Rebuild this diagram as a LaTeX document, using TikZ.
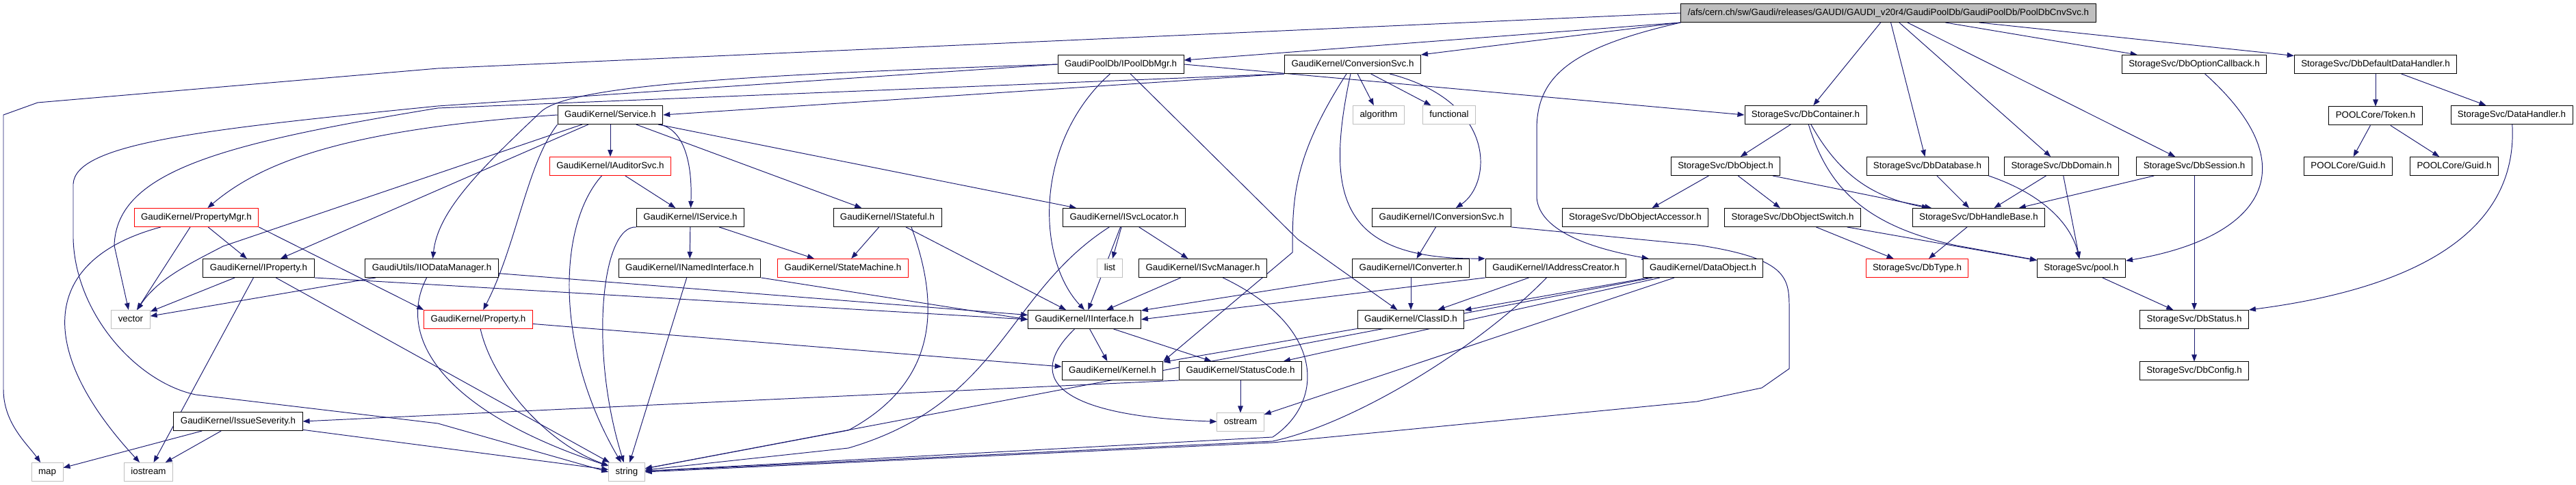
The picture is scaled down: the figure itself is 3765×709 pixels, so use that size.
\documentclass[tikz,border=0pt]{standalone}
\usepackage{fontspec}
\setmainfont{Liberation Sans}
\usepackage{tikz}
\usetikzlibrary{arrows.meta, positioning, backgrounds}

\definecolor{edgeblue}{RGB}{25,25,112}
\definecolor{rootgray}{RGB}{191,191,191}

\begin{document}
\begin{tikzpicture}[
    x=0.02cm, y=0.02cm,
    node distance=0.95cm,
    box/.style={rectangle, draw, line width=0.55pt, fill=white, minimum height=0.54cm, inner xsep=0.2cm, inner ysep=0pt, text height=5.6pt, text depth=1.6pt, font=\fontsize{7.6}{9}\selectfont},
    redbox/.style={box, draw=red},
    sysbox/.style={box, draw=rootgray},
    rootbox/.style={box, fill=rootgray},
    arrow/.style={-{Triangle[length=0.2cm, width=0.15cm]}, draw=edgeblue, line width=0.55pt}
]
\useasboundingbox (0,0) rectangle (3765,709);

% Top file
\node[rootbox] (root) at (2760,690) {/afs/cern.ch/sw/Gaudi/releases/GAUDI/GAUDI\_v20r4/GaudiPoolDb/GaudiPoolDb/PoolDbCnvSvc.h};

% Direct includes
\node[box] (mgr) at (1638,615) {GaudiPoolDb/IPoolDbMgr.h};
\node[box] (convsvc) at (1977,615) {GaudiKernel/ConversionSvc.h};
\node[box] (optcb) at (3207,615) {StorageSvc/DbOptionCallback.h};
\node[box] (defhdl) at (3472,615) {StorageSvc/DbDefaultDataHandler.h};

\node[box] (service) at (892,541) {GaudiKernel/Service.h};
\node[sysbox] (algo) at (2015,541) {algorithm};
\node[sysbox] (func) at (2118,541) {functional};
\node[box] (cont) at (2639,541) {StorageSvc/DbContainer.h};
\node[box, below=of defhdl] (token) {POOLCore/Token.h};
\node[box] (datahdl) at (3671,541) {StorageSvc/DataHandler.h};

\node[redbox] (audsvc) at (892,466) {GaudiKernel/IAuditorSvc.h};
\node[box] (dbobj) at (2522,466) {StorageSvc/DbObject.h};
\node[box] (dbase) at (2817,466) {StorageSvc/DbDatabase.h};
\node[box] (domain) at (3013,466) {StorageSvc/DbDomain.h};
\node[box] (session) at (3207,466) {StorageSvc/DbSession.h};
\node[box] (guida) at (3432,466) {POOLCore/Guid.h};
\node[box] (guidb) at (3587,466) {POOLCore/Guid.h};

\node[redbox] (propmgr) at (287,391) {GaudiKernel/PropertyMgr.h};
\node[box] (isvc) at (1009,391) {GaudiKernel/IService.h};
\node[box] (stateful) at (1297,391) {GaudiKernel/IStateful.h};
\node[box] (locator) at (1643,391) {GaudiKernel/ISvcLocator.h};
\node[box] (iconv) at (2107,391) {GaudiKernel/IConversionSvc.h};
\node[box] (accessor) at (2390,391) {StorageSvc/DbObjectAccessor.h};
\node[box] (objswitch) at (2620,391) {StorageSvc/DbObjectSwitch.h};
\node[box] (handle) at (2892,391) {StorageSvc/DbHandleBase.h};

\node[box] (iprop) at (378,317) {GaudiKernel/IProperty.h};
\node[box] (iodata) at (631,317) {GaudiUtils/IIODataManager.h};
\node[box] (named) at (1008,317) {GaudiKernel/INamedInterface.h};
\node[redbox] (statemach) at (1232,317) {GaudiKernel/StateMachine.h};
\node[sysbox] (list) at (1622,317) {list};
\node[box] (svcmgr) at (1758,317) {GaudiKernel/ISvcManager.h};
\node[box] (converter) at (2062,317) {GaudiKernel/IConverter.h};
\node[box] (addr) at (2274,317) {GaudiKernel/IAddressCreator.h};
\node[box] (dataobj) at (2489,317) {GaudiKernel/DataObject.h};
\node[redbox] (dbtype) at (2802,317) {StorageSvc/DbType.h};
\node[box] (pool) at (3042,317) {StorageSvc/pool.h};

\node[sysbox] (vector) at (191,242) {vector};
\node[redbox] (prop) at (699,242) {GaudiKernel/Property.h};
\node[box] (iface) at (1585,242) {GaudiKernel/IInterface.h};
\node[box] (classid) at (2062,242) {GaudiKernel/ClassID.h};
\node[box] (status) at (3207,242) {StorageSvc/DbStatus.h};

\node[box] (kernel) at (1626,167) {GaudiKernel/Kernel.h};
\node[box] (statcode) at (1813,167) {GaudiKernel/StatusCode.h};
\node[box, below=of status] (config) {StorageSvc/DbConfig.h};

\node[box] (issev) at (348,93) {GaudiKernel/IssueSeverity.h};
\node[sysbox, below=of statcode] (ostream) {ostream};

\node[sysbox] (map) at (69,19) {map};
\node[sysbox] (iostream) at (217,19) {iostream};
\node[sysbox] (string) at (916,19) {string};

\begin{scope}[on background layer]
% From the top file
\draw[arrow] (root.west) -- (640,609) -- (55,559) -- (5,541) -- (5,140) .. controls (5,90) and (40,60) .. (map);
\draw[arrow] (root.south west) -- ([yshift=0.12cm]mgr.east);
\draw[arrow] (root.south west) -- (convsvc.north east);
\draw[arrow] (root.south west) .. controls (2300,640) and (2246,600) .. (2246,520) -- (2246,420) .. controls (2250,370) and (2330,345) .. (dataobj);
\draw[arrow] (root) -- (cont);
\draw[arrow] (root) -- (dbase);
\draw[arrow] (root) -- (domain);
\draw[arrow] (root) -- (session);
\draw[arrow] (root) -- (optcb);
\draw[arrow] (root) -- (defhdl);

% IPoolDbMgr
\draw[arrow] (mgr.east) -- (cont.west);
\draw[arrow] (mgr) .. controls (1510,500) and (1515,330) .. (iface.north);
\draw[arrow] (mgr) -- (1897,359) -- (classid);
\draw[arrow] (mgr.west) .. controls (1100,600) and (830,585) .. (790,545) .. controls (700,460) and (640,400) .. (iodata);
\draw[arrow] (mgr.west) -- (640,554) .. controls (300,520) and (110,500) .. (107,440) -- (107,360) .. controls (110,250) and (200,150) .. (286,132) -- (640,90) -- (string.west);

% ConversionSvc
\draw[arrow] (convsvc.south west) -- (service.east);
\draw[arrow] (convsvc.south west) -- (640,551) .. controls (330,500) and (170,460) .. (167,350) -- (vector);
\draw[arrow] (convsvc) -- (algo);
\draw[arrow] (convsvc) -- (func);
\draw[arrow] (convsvc) .. controls (2190,560) and (2180,440) .. (iconv);
\draw[arrow] (convsvc) .. controls (1935,420) and (1960,330) .. (addr.north west);
\draw[arrow] (convsvc) .. controls (1890,480) and (1889,420) .. (1889,340) -- (kernel.north east);

% Service
\draw[arrow] (service) -- (audsvc);
\draw[arrow] (service) .. controls (1000,520) and (1012,470) .. (isvc);
\draw[arrow] (service) -- (stateful);
\draw[arrow] (service) -- (locator);
\draw[arrow] (service.west) .. controls (500,520) and (380,470) .. (propmgr);
\draw[arrow] (service) -- (iprop);
\draw[arrow] (service) -- (326,349) .. controls (270,320) and (230,300) .. (vector);
\draw[arrow] (service.south west) .. controls (770,470) and (755,350) .. (prop);

% IAuditorSvc, IService, INamedInterface
\draw[arrow] (audsvc) -- (isvc);
\draw[arrow] (audsvc) .. controls (815,380) and (810,200) .. (string);
\draw[arrow] (isvc) -- (named);
\draw[arrow] (isvc) -- (statemach);
\draw[arrow] (isvc.south west) .. controls (880,380) and (860,200) .. (string);
\draw[arrow] (named.south east) -- (iface.west);
\draw[arrow] (named) -- (string);

% IStateful, ISvcLocator, ISvcManager
\draw[arrow] (stateful) -- (statemach);
\draw[arrow] (stateful) -- (iface);
\draw[arrow] ([xshift=0.7cm]stateful.south) .. controls (1375,260) and (1370,150) .. (1240,80) -- (string);
\draw[arrow] (locator) -- (iface);
\draw[arrow] (locator) -- (list);
\draw[arrow] (locator) -- (svcmgr);
\draw[arrow] (locator) .. controls (1470,280) and (1465,120) .. (1240,54) -- (string);
\draw[arrow] (svcmgr) -- (iface);
\draw[arrow] (svcmgr) .. controls (1940,230) and (1935,120) .. (1860,70) -- (string);

% IConversionSvc, IConverter, IAddressCreator
\draw[arrow] (iconv) -- (converter);
\draw[arrow] (iconv.south east) -- (2480,351) .. controls (2620,330) and (2615,300) .. (2615,250) -- (2615,170) -- (2575,142) -- (2480,122) -- (1860,62) -- (string.east);
\draw[arrow] (converter) -- (classid);
\draw[arrow] (converter) -- (iface);
\draw[arrow] (addr) -- (classid);
\draw[arrow] (addr.south west) -- (iface.east);
\draw[arrow] (addr) .. controls (2160,200) and (1980,90) .. (1860,64) -- (string);

% DataObject, ClassID
\draw[arrow] (dataobj) -- (classid);
\draw[arrow] (dataobj) -- (statcode);
\draw[arrow] (dataobj) -- (ostream);
\draw[arrow] (dataobj) -- (string);
\draw[arrow] (classid) -- (kernel);

% IInterface, StatusCode
\draw[arrow] (iface) -- (kernel);
\draw[arrow] (iface) -- (statcode);
\draw[arrow] (iface) .. controls (1490,150) and (1560,100) .. (ostream);
\draw[arrow] (statcode) -- (ostream);
\draw[arrow] (statcode.south west) -- (issev.east);

% Property, IProperty, IIODataManager, PropertyMgr
\draw[arrow] (prop) -- (kernel);
\draw[arrow] (prop) .. controls (720,150) and (800,60) .. (string);
\draw[arrow] (iprop) -- (vector);
\draw[arrow] (iprop) -- (iostream);
\draw[arrow] (iprop) -- (string);
\draw[arrow] (iprop.south east) -- (iface.west);
\draw[arrow] (iodata) -- (vector);
\draw[arrow] (iodata) -- (iface);
\draw[arrow] (iodata) .. controls (580,220) and (640,110) .. (string);
\draw[arrow] (propmgr) -- (iprop);
\draw[arrow] (propmgr.south east) -- (prop.north west);
\draw[arrow] (propmgr) -- (vector);
\draw[arrow] (propmgr) .. controls (60,330) and (50,200) .. (iostream);

% IssueSeverity
\draw[arrow] (issev) -- (map);
\draw[arrow] (issev) -- (iostream);
\draw[arrow] (issev) -- (string);

% StorageSvc side
\draw[arrow] (cont) -- (dbobj);
\draw[arrow] (cont) .. controls (2690,450) and (2740,420) .. (handle);
\draw[arrow] (cont) .. controls (2670,440) and (2720,380) .. (2860,350) -- (pool);
\draw[arrow] (dbobj) -- (accessor);
\draw[arrow] (dbobj) -- (objswitch);
\draw[arrow] (dbobj) -- (handle);
\draw[arrow] (dbase) -- (handle);
\draw[arrow] (dbase.south east) .. controls (3000,420) and (3030,370) .. (pool);
\draw[arrow] (domain) -- (handle);
\draw[arrow] (domain) -- (pool);
\draw[arrow] (session) -- (handle);
\draw[arrow] (session) -- (status);
\draw[arrow] (handle) -- (dbtype);
\draw[arrow] (objswitch) -- (dbtype);
\draw[arrow] (objswitch) -- (pool);
\draw[arrow] (pool) -- (status);
\draw[arrow] (optcb) .. controls (3380,460) and (3300,360) .. (pool);
\draw[arrow] (defhdl) -- (token);
\draw[arrow] (defhdl) -- (datahdl);
\draw[arrow] (token) -- (guida);
\draw[arrow] (token) -- (guidb);
\draw[arrow] (datahdl) .. controls (3680,380) and (3550,290) .. (status.north east);
\draw[arrow] (status) -- (config);
\end{scope}

\end{tikzpicture}
\end{document}
